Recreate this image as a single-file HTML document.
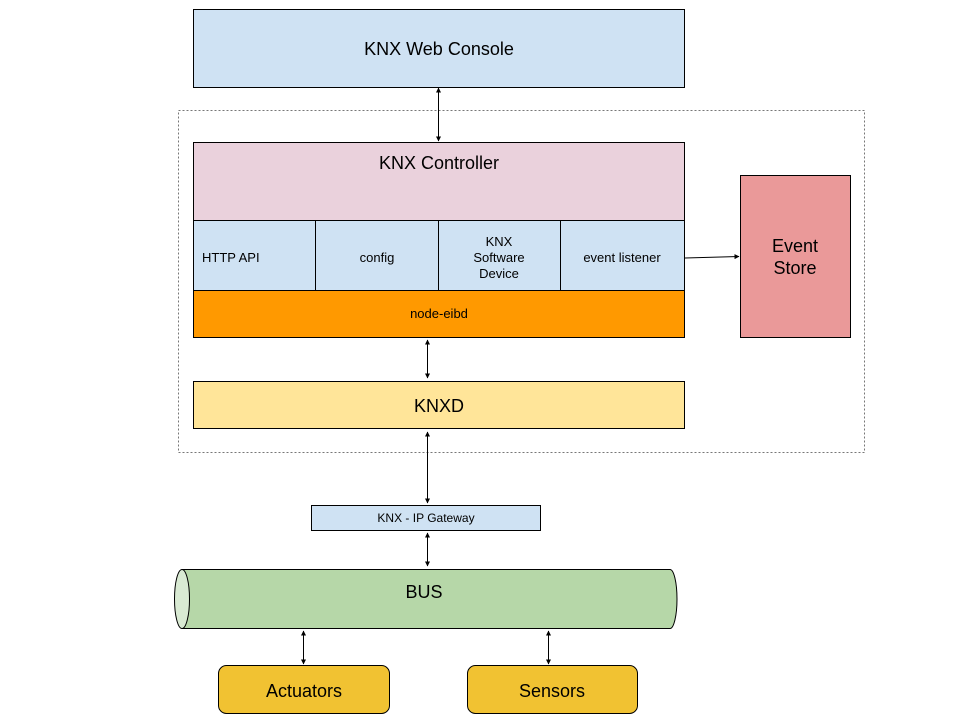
<!DOCTYPE html>
<html><head><meta charset="utf-8"><style>body{margin:0;background:#fff}svg{display:block}text{font-family:"Liberation Sans",Arial,sans-serif;fill:#000}</style></head>
<body>
<svg width="960" height="720" viewBox="0 0 960 720" xmlns="http://www.w3.org/2000/svg">
<defs>
<marker id="a" viewBox="0 0 10 10" refX="9" refY="5" markerWidth="5" markerHeight="5" orient="auto-start-reverse"><path d="M0,0L10,5L0,10z" fill="#000"/></marker>
</defs>
<rect x="178.5" y="110.5" width="686" height="342" fill="none" stroke="#777" stroke-dasharray="2,2"/>
<rect x="193.5" y="9.5" width="491" height="78" fill="#cfe2f3" stroke="#000"/>
<text x="439" y="55" font-size="18" text-anchor="middle">KNX Web Console</text>
<rect x="193.5" y="142.5" width="491" height="78" fill="#ead1dc" stroke="#000"/>
<text x="439" y="169" font-size="18" text-anchor="middle">KNX Controller</text>
<rect x="193.5" y="220.5" width="491" height="70" fill="#cfe2f3" stroke="#000"/>
<line x1="315.5" y1="220" x2="315.5" y2="290" stroke="#000"/>
<line x1="438.5" y1="220" x2="438.5" y2="290" stroke="#000"/>
<line x1="560.5" y1="220" x2="560.5" y2="290" stroke="#000"/>
<g font-size="13">
<text x="202" y="262">HTTP API</text>
<text x="377" y="262" text-anchor="middle">config</text>
<text x="499" y="246" text-anchor="middle">KNX</text>
<text x="499" y="262" text-anchor="middle">Software</text>
<text x="499" y="278" text-anchor="middle">Device</text>
<text x="622" y="262" text-anchor="middle">event listener</text>
<text x="439" y="318" text-anchor="middle">node-eibd</text>
</g>
<rect x="193.5" y="290.5" width="491" height="47" fill="#ff9900" stroke="#000"/>
<text x="439" y="318" font-size="13" text-anchor="middle">node-eibd</text>
<rect x="193.5" y="381.5" width="491" height="47" fill="#ffe599" stroke="#000"/>
<text x="439" y="412" font-size="18" text-anchor="middle">KNXD</text>
<rect x="740.5" y="175.5" width="110" height="162" fill="#ea9999" stroke="#000"/>
<text x="795" y="252" font-size="18" text-anchor="middle">Event</text>
<text x="795" y="274" font-size="18" text-anchor="middle">Store</text>
<rect x="311.5" y="505.5" width="229" height="25" fill="#cfe2f3" stroke="#000"/>
<text x="426" y="522" font-size="12" text-anchor="middle">KNX - IP Gateway</text>
<path d="M182,569.5H670A7,29.5 0 0 1 670,628.5H182" fill="#b6d7a8" stroke="#000"/>
<ellipse cx="182" cy="599" rx="7.5" ry="29.5" fill="#d9ead3" stroke="#000"/>
<text x="424" y="598" font-size="18" text-anchor="middle">BUS</text>
<rect x="218.5" y="665.5" width="171" height="48" rx="8" fill="#f1c232" stroke="#000"/>
<text x="304" y="697" font-size="18" text-anchor="middle">Actuators</text>
<rect x="467.5" y="665.5" width="170" height="48" rx="8" fill="#f1c232" stroke="#000"/>
<text x="552" y="697" font-size="18" text-anchor="middle">Sensors</text>
<g stroke="#000" stroke-width="1" marker-start="url(#a)" marker-end="url(#a)">
<line x1="438.5" y1="88" x2="438.5" y2="141"/>
<line x1="427.5" y1="340" x2="427.5" y2="378"/>
<line x1="427.5" y1="432" x2="427.5" y2="503"/>
<line x1="427.5" y1="533" x2="427.5" y2="566"/>
<line x1="303.5" y1="631" x2="303.5" y2="664"/>
<line x1="548.5" y1="631" x2="548.5" y2="664"/>
</g>
<line x1="685" y1="258" x2="739" y2="256.5" stroke="#000" marker-end="url(#a)"/>
</svg>
</body></html>
